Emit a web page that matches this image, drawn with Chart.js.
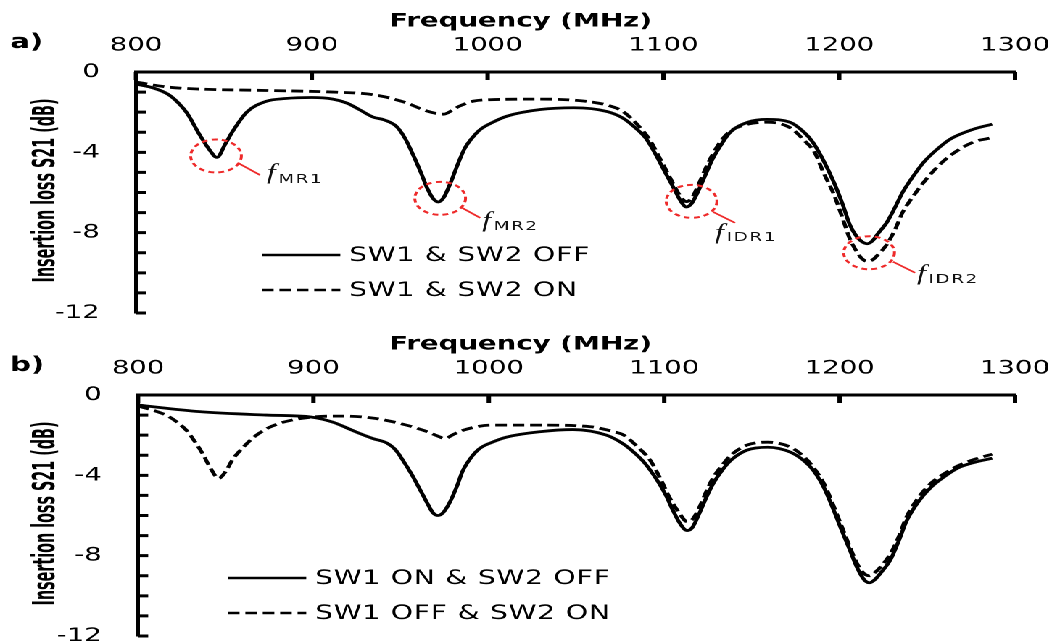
<!DOCTYPE html>
<html>
<head>
<meta charset="utf-8">
<script src="https://cdn.jsdelivr.net/npm/chart.js@4"></script>
<style>
body { margin: 0; background: #fff; overflow: hidden; }
/* the figure is a horizontally stretched plot, so draw narrow and stretch */
#wrap { position: absolute; left: 0; top: 0; width: 726px; height: 643px; transform: scaleX(1.45); transform-origin: 0 0; }
canvas { position: absolute; left: 0; }
#ca { top: 0; }
#cb { top: 323px; }
</style>
</head>
<body>
<div id="wrap">
  <canvas id="ca" width="726" height="325"></canvas>
  <canvas id="cb" width="726" height="325"></canvas>
</div>
<script>
// a) SW1 & SW2 OFF
var freqA_off = [800, 810, 818, 823, 829, 836, 842, 846, 851, 855, 863, 874, 885, 900, 912, 920, 927, 935, 941, 948,
  953, 958, 962, 966, 969, 972, 975, 979, 983, 987, 992, 996, 1003, 1011, 1030, 1049, 1068, 1077, 1083, 1090,
  1096, 1101, 1106, 1110, 1113, 1116, 1120, 1124, 1128, 1133, 1138, 1148, 1159, 1172, 1180, 1185, 1191, 1197, 1202, 1206,
  1210, 1213, 1216, 1219, 1222, 1227, 1232, 1236, 1242, 1248, 1255, 1263, 1276, 1287];
var lossA_off = [-0.6, -0.8, -1.1, -1.45, -2.05, -3.1, -3.9, -4.25, -3.55, -2.95, -2.0, -1.46, -1.32, -1.27, -1.35, -1.55, -1.87, -2.25, -2.38, -2.7,
  -3.3, -4.2, -5.0, -5.85, -6.3, -6.47, -6.25, -5.5, -4.6, -3.8, -3.2, -2.85, -2.5, -2.2, -1.87, -1.78, -1.97, -2.3, -2.7, -3.3,
  -4.17, -5.0, -5.8, -6.45, -6.72, -6.55, -5.9, -5.1, -4.33, -3.6, -3.0, -2.5, -2.36, -2.5, -3.0, -3.5, -4.4, -5.5, -6.6, -7.6,
  -8.2, -8.45, -8.55, -8.4, -8.05, -7.5, -6.7, -6.0, -5.2, -4.5, -3.9, -3.35, -2.86, -2.6];

// a) SW1 & SW2 ON
var freqA_on = [800, 818, 836, 874, 912, 935, 954, 963, 970, 975, 980, 984, 992, 1001, 1030, 1058, 1070, 1077, 1085, 1092,
  1098, 1104, 1109, 1113, 1116, 1120, 1124, 1128, 1133, 1138, 1148, 1159, 1172, 1180, 1186, 1191, 1197, 1202, 1206, 1210,
  1213, 1216, 1219, 1222, 1227, 1232, 1236, 1242, 1248, 1255, 1263, 1276, 1287];
var lossA_on = [-0.5, -0.75, -0.85, -0.92, -1.0, -1.13, -1.54, -1.87, -2.05, -2.1, -1.9, -1.7, -1.45, -1.38, -1.35, -1.48, -1.7, -1.97, -2.6, -3.35,
  -4.3, -5.3, -6.1, -6.45, -6.3, -5.6, -4.8, -4.1, -3.4, -2.95, -2.6, -2.5, -2.77, -3.4, -4.0, -5.0, -6.1, -7.3, -8.3, -8.95,
  -9.3, -9.43, -9.35, -9.1, -8.6, -7.8, -7.0, -6.2, -5.5, -4.8, -4.17, -3.5, -3.27];

// b) SW1 ON & SW2 OFF
var freqB_1on = [800, 835, 873, 899, 911, 918, 926, 934, 942, 947, 951, 956, 961, 965, 968, 971, 974, 978, 982, 985,
  990, 995, 1002, 1010, 1029, 1048, 1067, 1076, 1082, 1089, 1096, 1101, 1105, 1109, 1113, 1116, 1120, 1124, 1128, 1133,
  1138, 1147, 1159, 1172, 1180, 1185, 1191, 1196, 1201, 1206, 1210, 1214, 1217, 1220, 1224, 1229, 1234, 1238, 1245, 1252,
  1260, 1267, 1277, 1287];
var lossB_1on = [-0.5, -0.83, -1.0, -1.1, -1.35, -1.6, -1.9, -2.17, -2.4, -2.75, -3.25, -3.95, -4.75, -5.4, -5.85, -6.0, -5.85, -5.3, -4.5, -3.8,
  -3.1, -2.65, -2.35, -2.1, -1.83, -1.72, -2.0, -2.4, -2.8, -3.4, -4.25, -5.0, -5.75, -6.4, -6.75, -6.6, -5.9, -5.1, -4.4, -3.75,
  -3.25, -2.75, -2.6, -2.85, -3.3, -3.75, -4.6, -5.6, -6.7, -7.75, -8.6, -9.2, -9.35, -9.2, -8.8, -8.2, -7.2, -6.3, -5.3, -4.6,
  -4.05, -3.65, -3.35, -3.15];

// b) SW1 OFF & SW2 ON
var freqB_2on = [800, 810, 817, 823, 828, 833, 837, 841, 846, 850, 854, 860, 866, 874, 883, 899, 915, 934, 953, 965,
  971, 975, 979, 984, 992, 1001, 1029, 1058, 1070, 1077, 1085, 1092, 1098, 1103, 1108, 1113, 1116, 1120, 1124, 1128,
  1133, 1138, 1147, 1159, 1172, 1180, 1185, 1191, 1196, 1201, 1206, 1210, 1214, 1217, 1220, 1224, 1229, 1234, 1238, 1245,
  1252, 1260, 1267, 1277, 1287];
var lossB_2on = [-0.55, -0.8, -1.05, -1.4, -1.8, -2.4, -2.95, -3.6, -4.15, -3.8, -3.2, -2.6, -2.1, -1.65, -1.35, -1.1, -1.05, -1.15, -1.5, -1.83,
  -2.05, -2.17, -2.0, -1.8, -1.6, -1.5, -1.5, -1.58, -1.8, -2.0, -2.6, -3.25, -4.2, -5.1, -5.8, -6.3, -6.2, -5.6, -4.8, -4.1,
  -3.5, -3.0, -2.5, -2.35, -2.6, -3.1, -3.6, -4.4, -5.4, -6.5, -7.6, -8.4, -8.9, -9.0, -8.85, -8.5, -7.9, -7.0, -6.1, -5.1,
  -4.4, -3.9, -3.55, -3.2, -2.95];

var labelsA = ['SW1 & SW2 OFF', 'SW1 & SW2 ON'];
var labelsB = ['SW1 ON & SW2 OFF', 'SW1 OFF & SW2 ON'];

// resonance markers on panel a)
var markNames = ['MR1', 'MR2', 'IDR1', 'IDR2'];
var markFreq = [845.5, 973, 1116, 1217];
var markLoss = [-4.18, -6.29, -6.44, -9.0];

var RED = '#ee2a2a';

function pts(f, l) {
  return f.map(function (v, i) { return { x: v, y: l[i] }; });
}

// inner ticks, panel letter, axis titles, legend and markers
var decor = {
  id: 'decor',
  afterDraw: function (chart, args, o) {
    var ctx = chart.ctx, a = chart.chartArea;
    var xs = chart.scales.x, ys = chart.scales.y;
    ctx.save();
    ctx.strokeStyle = '#000';
    ctx.lineWidth = 3;
    ctx.beginPath();
    ys.ticks.forEach(function (t) {
      var y = ys.getPixelForValue(t.value);
      ctx.moveTo(a.left, y); ctx.lineTo(a.left + 7, y);
    });
    xs.ticks.forEach(function (t) {
      var x = xs.getPixelForValue(t.value);
      ctx.moveTo(x, a.top); ctx.lineTo(x, a.top + 8);
    });
    ctx.stroke();

    ctx.fillStyle = '#000';
    ctx.textBaseline = 'middle';
    ctx.textAlign = 'left';
    ctx.font = 'bold 20px "DejaVu Sans"';
    ctx.fillText(o.letter, 7, 43);
    ctx.textAlign = 'center';
    ctx.font = 'bold 19px "DejaVu Sans"';
    ctx.fillText('Frequency (MHz)', 359, 21.5);

    // y title, squeezed to the length it has in the figure
    ctx.save();
    ctx.translate(32, (a.top + a.bottom) / 2 - 2);
    ctx.rotate(-Math.PI / 2);
    ctx.font = 'bold 21px "DejaVu Sans Condensed", "DejaVu Sans"';
    var tw = ctx.measureText(o.yTitle).width;
    ctx.scale(184 / tw, 1);
    ctx.fillText(o.yTitle, 0, 0);
    ctx.restore();

    // legend
    ctx.textAlign = 'left';
    ctx.font = '19.5px "DejaVu Sans"';
    ctx.letterSpacing = '0.5px';
    chart.data.datasets.forEach(function (ds, i) {
      var y = o.legY + i * 35;
      ctx.setLineDash(ds.borderDash || []);
      ctx.lineWidth = 2.6;
      ctx.beginPath();
      ctx.moveTo(o.legX, y); ctx.lineTo(o.legX + 54, y);
      ctx.stroke();
      ctx.setLineDash([]);
      ctx.fillText(ds.label, o.legX + 60, y + 1);
    });

    // markers
    (o.marks || []).forEach(function (m) {
      var cx = xs.getPixelForValue(m.x), cy = ys.getPixelForValue(m.y);
      var d = m.off;
      ctx.strokeStyle = RED;
      ctx.lineWidth = 2;
      ctx.setLineDash([4, 3]);
      ctx.beginPath();
      ctx.ellipse(cx, cy, 17.5, 16.5, 0, 0, 2 * Math.PI);
      ctx.stroke();
      ctx.setLineDash([]);
      ctx.lineWidth = 1.6;
      ctx.beginPath();
      ctx.moveTo(cx + d[0], cy + d[1]);
      ctx.lineTo(cx + d[2], cy + d[3]);
      ctx.stroke();
      ctx.fillStyle = '#111';
      ctx.textBaseline = 'alphabetic';
      ctx.letterSpacing = '0px';
      ctx.font = 'italic 22px "Liberation Serif"';
      ctx.fillText('f', cx + d[4], cy + d[5]);
      ctx.font = '12.5px "DejaVu Sans"';
      ctx.letterSpacing = '1.2px';
      ctx.fillText(m.name, cx + d[4] + 8, cy + d[6]);
    });
    ctx.restore();
  }
};

function makePanel(id, series, labels, opts) {
  return new Chart(document.getElementById(id), {
    type: 'line',
    data: {
      datasets: [{
        label: labels[0],
        data: pts(series[0], series[1]),
        borderColor: '#000',
        borderWidth: 2.8,
        order: 1
      }, {
        label: labels[1],
        data: pts(series[2], series[3]),
        borderColor: '#000',
        borderWidth: 2.8,
        borderDash: [8, 4],
        order: 0
      }]
    },
    options: {
      responsive: false,
      devicePixelRatio: 2,
      animation: false,
      layout: { padding: { left: 0, top: 0, right: 26, bottom: 12 } },
      elements: {
        point: { radius: 0 },
        line: { cubicInterpolationMode: 'monotone', fill: false }
      },
      plugins: {
        legend: { display: false },
        tooltip: { enabled: false },
        decor: opts
      },
      scales: {
        x: {
          type: 'linear',
          position: 'top',
          min: 800,
          max: 1300,
          ticks: {
            stepSize: 100, padding: 0, color: '#000', font: { size: 19 },
            callback: function (v) { return String(v); }
          },
          // hidden tick marks only used to push labels off the axis
          grid: { display: false, drawTicks: true, tickLength: 15 },
          border: { display: true, width: 3, color: '#000' },
          afterFit: function (s) { s.height = 72; }
        },
        y: {
          min: -12,
          max: 0,
          ticks: {
            stepSize: 1,
            autoSkip: false,
            padding: 0,
            color: '#000',
            font: { size: 19 },
            callback: function (v) { return v % 4 === 0 ? String(v) : ''; }
          },
          grid: { display: false, drawTicks: true, tickLength: 25 },
          border: { display: true, width: 3, color: '#000' },
          afterFit: function (s) { s.width = opts.yw; }
        }
      }
    },
    plugins: [decor]
  });
}

Chart.defaults.font.family = '"DejaVu Sans"';
Chart.defaults.color = '#000';

// leader start, leader end, "f" position, subscript baseline (px from circle centre)
var markOffsets = [
  [15.2, 7, 30.3, 19, 35, 23, 27],
  [15.2, 9.5, 27.6, 19.5, 29, 28.5, 31.5],
  [14.8, 10.5, 30, 21.5, 16.2, 37.5, 39.5],
  [16.5, 9, 31.7, 20, 33, 27, 30]
];
var marks = markNames.map(function (n, i) {
  return { name: n, x: markFreq[i], y: markLoss[i], off: markOffsets[i] };
});

var yTitle = 'Insertion loss S21 (dB)';

makePanel('ca', [freqA_off, lossA_off, freqA_on, lossA_on], labelsA,
  { letter: 'a)', yTitle: yTitle, yw: 93.8, legX: 180.7, legY: 255, marks: marks });
makePanel('cb', [freqB_1on, lossB_1on, freqB_2on, lossB_2on], labelsB,
  { letter: 'b)', yTitle: yTitle, yw: 95.2, legX: 157.2, legY: 255, marks: [] });
</script>
</body>
</html>
